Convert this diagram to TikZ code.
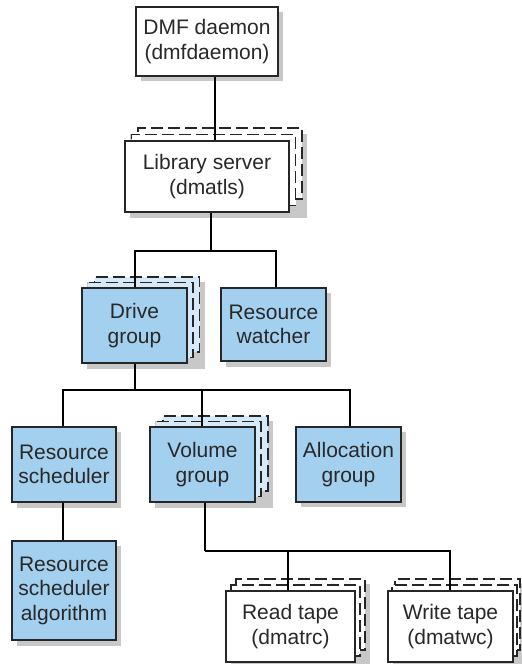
\documentclass[tikz,border=0pt]{standalone}
\usepackage{fontspec}
\setmainfont{Liberation Sans}
\definecolor{boxblue}{RGB}{163,208,238}
\definecolor{backblue}{RGB}{214,233,248}
\definecolor{shadowgray}{RGB}{200,200,200}
\definecolor{txt}{RGB}{40,40,40}
\begin{document}
\begin{tikzpicture}[x=1pt,y=-1pt,
  box/.style={draw=black!85,line width=1.3pt,rectangle,inner sep=0pt,align=center,
    font=\fontsize{21}{24.5}\selectfont,text=txt},
  whitebox/.style={box,fill=white},
  bluebox/.style={box,fill=boxblue},
  backwhite/.style={draw=black!85,line width=1.3pt,dash pattern=on 12pt off 5pt,fill=white,rectangle,inner sep=0pt},
  backblue/.style={draw=black!85,line width=1.3pt,dash pattern=on 12pt off 5pt,fill=backblue,rectangle,inner sep=0pt},
  conn/.style={draw=black,line width=1.8pt},
  shadow/.style={fill=shadowgray,draw=none}
]
\useasboundingbox (0,0) rectangle (522,664);
\fill[white] (0,0) rectangle (522,664);

% ---------- shadows ----------
\fill[shadow] (141,12) rectangle (283,81);          % DMF
\fill[shadow] (130,134) rectangle (307,218);        % Library stack
\fill[shadow] (87,282) rectangle (205,369);         % Drive stack
\fill[shadow] (226,293) rectangle (331,367);        % Resource watcher
\fill[shadow] (17,432) rectangle (121,508);         % Res scheduler
\fill[shadow] (17,546) rectangle (121,646);         % Algorithm
\fill[shadow] (155,421) rectangle (273,508);        % Volume stack
\fill[shadow] (301,432) rectangle (406,507);        % Allocation
\fill[shadow] (231,584) rectangle (370,668);        % Read stack
\fill[shadow] (393,584) rectangle (527,668);        % Write stack

% ---------- DMF daemon ----------
\node[whitebox,minimum width=142pt,minimum height=69pt] (dmf) at (207,41.5) {DMF daemon\\(dmfdaemon)};

% ---------- Library server stack ----------
\node[backwhite,minimum width=164pt,minimum height=71pt] (lib3) at (220,163.5) {};
\node[backwhite,minimum width=164pt,minimum height=71pt] (lib2) at (213.5,170) {};
\node[whitebox,minimum width=164pt,minimum height=71pt] (lib) at (207,176.5) {Library server\\(dmatls)};

% ---------- Drive group stack ----------
\node[backblue,minimum width=105pt,minimum height=75pt] (drv3) at (147,314.5) {};
\node[backblue,minimum width=105pt,minimum height=75pt] (drv2) at (140.5,320) {};
\node[bluebox,minimum width=105pt,minimum height=75pt] (drv) at (134.5,325.5) {Drive\\group};

% ---------- Resource watcher ----------
\node[bluebox,minimum width=105pt,minimum height=73pt] (watch) at (273.5,324.5) {Resource\\watcher};

% ---------- Resource scheduler ----------
\node[bluebox,minimum width=104pt,minimum height=75pt] (sched) at (64,464.5) {Resource\\scheduler};
\node[bluebox,minimum width=104pt,minimum height=99pt] (algo) at (64,590.5) {Resource\\scheduler\\algorithm};

% ---------- Volume group stack ----------
\node[backblue,minimum width=105pt,minimum height=75pt] (vol3) at (215.5,453.5) {};
\node[backblue,minimum width=105pt,minimum height=75pt] (vol2) at (208.5,459) {};
\node[bluebox,minimum width=105pt,minimum height=75pt] (vol) at (202.5,464.5) {Volume\\group};

% ---------- Allocation group ----------
\node[bluebox,minimum width=105pt,minimum height=75pt] (alloc) at (348.5,464.5) {Allocation\\group};

% ---------- Read tape stack ----------
\node[backwhite,minimum width=129pt,minimum height=71pt] (rd3) at (300.5,614.5) {};
\node[backwhite,minimum width=129pt,minimum height=71pt] (rd2) at (295.5,620.5) {};
\node[whitebox,minimum width=129pt,minimum height=71pt] (rd) at (290.5,626.5) {Read tape\\(dmatrc)};

% ---------- Write tape stack ----------
\node[backwhite,minimum width=125pt,minimum height=71pt] (wr3) at (457.5,614.5) {};
\node[backwhite,minimum width=125pt,minimum height=71pt] (wr2) at (454.5,620.5) {};
\node[whitebox,minimum width=125pt,minimum height=71pt] (wr) at (450.5,626.5) {Write tape\\(dmatwc)};

% ---------- connectors ----------
\coordinate (j1) at (211,251);
\coordinate (j2) at (135,390);
\coordinate (j3) at (205,551);

\draw[conn] ([xshift=8pt]dmf.south) -- ([xshift=8pt]dmf.south |- lib.north);

\draw[conn] ([xshift=4pt]lib.south) -- ([xshift=4pt]lib.south |- j1);
\draw[conn] ([xshift=0.5pt]drv.north) |- (j1) -| ([xshift=2.5pt]watch.north);

\draw[conn] ([xshift=0.5pt]drv.south) -- ([xshift=0.5pt]drv.south |- j2);
\draw[conn] ([xshift=-1pt]sched.north) |- (j2) -| ([xshift=1.5pt]alloc.north);
\draw[conn] ([xshift=-0.5pt]vol.north) -- ([xshift=-0.5pt]vol.north |- j2);

\draw[conn] ([xshift=-1pt]sched.south) -- ([xshift=-1pt]algo.north);

\draw[conn] ([xshift=2.5pt]vol.south) -- ([xshift=2.5pt]vol.south |- j3);
\draw[conn] ([xshift=-2.5pt]rd.north) |- (j3) -| ([xshift=-0.5pt]wr.north);

\end{tikzpicture}
\end{document}
